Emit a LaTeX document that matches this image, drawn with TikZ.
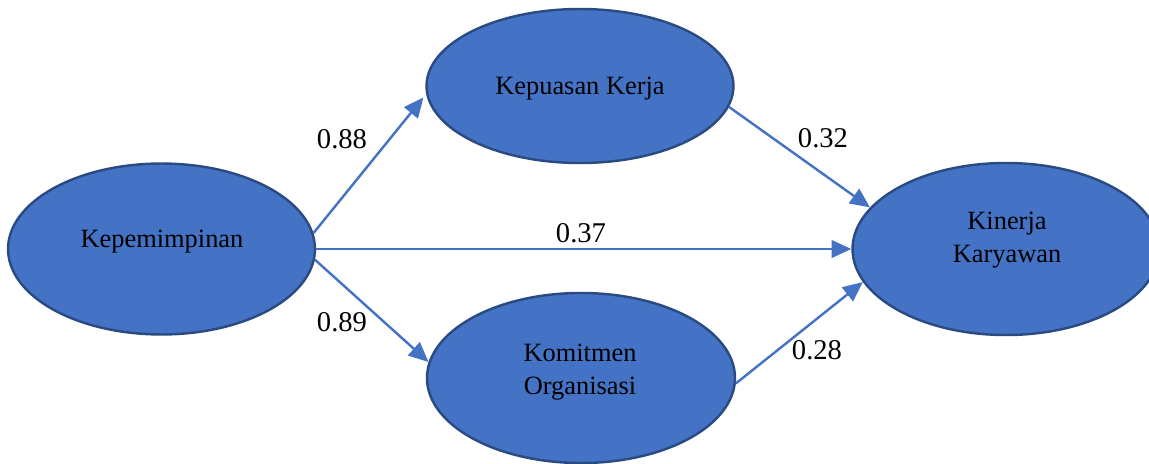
\documentclass[tikz,border=0pt]{standalone}
\usepackage{fontspec}
\setmainfont{Liberation Serif}
\usetikzlibrary{arrows.meta,shapes.geometric}
\definecolor{fillblue}{HTML}{4472C4}
\definecolor{edgeblue}{HTML}{2A4A82}
\begin{document}
\begin{tikzpicture}[x={(0.4545pt,0)},y={(0,-0.4545pt)},
  latent/.style={ellipse,draw=edgeblue,fill=fillblue,line width=1.1pt,inner sep=0pt},
  txt/.style={font=\fontsize{12}{14.8}\selectfont,align=center,inner sep=0pt,text=black},
  path/.style={draw=fillblue,line width=1.1pt,-{Triangle[length=9pt,width=8pt]}},
  coef/.style={font=\fontsize{13}{15}\selectfont,inner sep=0pt,anchor=base}]
\clip (0,0) rectangle (1149,464);
\useasboundingbox (0,0) rectangle (1149,464);
\node[latent,minimum width=139.5pt,minimum height=77.7pt] (kep) at (161.5,249) {};
\node[latent,minimum width=139.5pt,minimum height=70pt] (kpk) at (580,86) {};
\node[latent,minimum width=140pt,minimum height=77.3pt] (kom) at (581,378) {};
\node[latent,minimum width=139.5pt,minimum height=78.2pt] (kin) at (1006,249) {};
\node[txt,anchor=base] (tkep) at (162,247) {Kepemimpinan};
\node[txt,anchor=base] (tkpk) at (580,94) {Kepuasan Kerja};
\node[txt] (tkom) at (580,372) {Komitmen\\Organisasi};
\node[txt] (tkin) at (1007,240) {Kinerja\\Karyawan};
\draw[path,shorten >=2pt] (kep.6) -- (kpk.183);
\draw[path] (kep.east) -- (kin.west);
\draw[path] (kep.-4.5) -- (kom.174);
\draw[path] (kpk.-8) -- (kin.163.4);
\draw[path] (kom.-2) -- (kin.193);
\node[coef] (c1) at (342,148) {0.88};
\node[coef] (c2) at (342,331) {0.89};
\node[coef] (c3) at (581,242) {0.37};
\node[coef] (c4) at (823,147) {0.32};
\node[coef] (c5) at (817,359) {0.28};
\end{tikzpicture}
\end{document}
